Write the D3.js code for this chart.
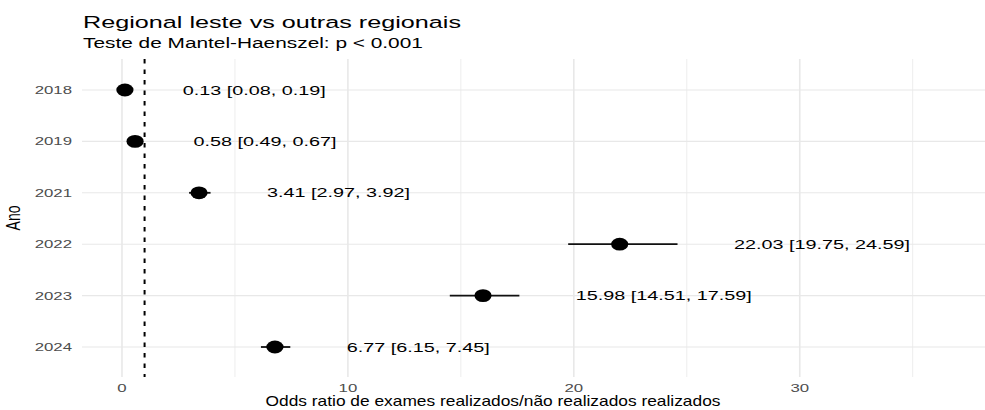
<!DOCTYPE html>
<html lang="en">
	<head>
		<meta charset="utf-8">
		<title>Regional leste vs outras regionais</title>
		<script type="text/javascript" src="https://cdn.jsdelivr.net/npm/d3@7"></script>
		<style type="text/css">
			html, body {
				margin: 0;
				padding: 0;
				background: #fff;
			}
			svg text {
				font-family: "Liberation Sans", Arial, sans-serif;
			}
		</style>
	</head>
	<body>
		<script type="text/javascript">

			// data
			let years = ["2018", "2019", "2021", "2022", "2023", "2024"];
			let oddsRatio = [0.13, 0.58, 3.41, 22.03, 15.98, 6.77];
			let lower = [0.08, 0.49, 2.97, 19.75, 14.51, 6.15];
			let upper = [0.19, 0.67, 3.92, 24.59, 17.59, 7.45];
			let xTicks = [0, 10, 20, 30];
			let xMinorTicks = [5, 15, 25, 35];
			let refLine = 1;

			let titleText = "Regional leste vs outras regionais";
			let subtitleText = "Teste de Mantel-Haenszel: p < 0.001";
			let xTitle = "Odds ratio de exames realizados/não realizados realizados";
			let yTitle = "Ano";

			//Width and height
			let w = 985;
			let h = 410;
			let SX = 1.5; // the picture is stretched sideways

			let rows = years.map((y, i) => ({
				year: y,
				or: oddsRatio[i],
				lo: lower[i],
				hi: upper[i]
			}));

			let svg = d3.select("body")
						.append("svg")
						.attr("width", w)
						.attr("height", h);

			let xScale = d3.scaleLinear()
							.domain([-1.77, 38.2])
							.range([82, 985]);

			let yScale = d3.scalePoint()
							.domain(years)
							.range([90, 347]);

			let panelTop = 59;
			let panelBottom = 377;

			// helper for stretched text
			function label(g, x, y, txt, size, anchor, color, sx) {
				return g.append("text")
					.attr("transform", "translate(" + x + "," + y + ") scale(" + (sx || SX) + ",1)")
					.attr("text-anchor", anchor)
					.attr("font-size", size + "px")
					.attr("fill", color)
					.text(txt);
			}

			// grid
			svg.selectAll("line.minor")
			   .data(xMinorTicks)
			   .enter()
			   .append("line")
			   .attr("x1", (d) => xScale(d))
			   .attr("x2", (d) => xScale(d))
			   .attr("y1", panelTop)
			   .attr("y2", panelBottom)
			   .attr("stroke", "#ededed")
			   .attr("stroke-width", 1);

			svg.selectAll("line.major")
			   .data(xTicks)
			   .enter()
			   .append("line")
			   .attr("x1", (d) => xScale(d))
			   .attr("x2", (d) => xScale(d))
			   .attr("y1", panelTop)
			   .attr("y2", panelBottom)
			   .attr("stroke", "#e8e8e8")
			   .attr("stroke-width", 1.6);

			svg.selectAll("line.hgrid")
			   .data(years)
			   .enter()
			   .append("line")
			   .attr("x1", 82)
			   .attr("x2", w)
			   .attr("y1", (d) => yScale(d))
			   .attr("y2", (d) => yScale(d))
			   .attr("stroke", "#e8e8e8")
			   .attr("stroke-width", 1.1);

			// reference line at OR = 1
			svg.append("line")
			   .attr("x1", xScale(refLine))
			   .attr("x2", xScale(refLine))
			   .attr("y1", panelTop)
			   .attr("y2", panelBottom)
			   .attr("stroke", "#000")
			   .attr("stroke-width", 2)
			   .attr("stroke-dasharray", "4.5,6");

			// confidence intervals
			svg.selectAll("line.ci")
			   .data(rows)
			   .enter()
			   .append("line")
			   .attr("x1", (d) => xScale(d.lo))
			   .attr("x2", (d) => xScale(d.hi))
			   .attr("y1", (d) => yScale(d.year))
			   .attr("y2", (d) => yScale(d.year))
			   .attr("stroke", "#111")
			   .attr("stroke-width", 1.8);

			// points
			svg.selectAll("ellipse")
			   .data(rows)
			   .enter()
			   .append("ellipse")
			   .attr("cx", (d) => xScale(d.or))
			   .attr("cy", (d) => yScale(d.year))
			   .attr("rx", 8.6)
			   .attr("ry", 6.4)
			   .attr("fill", "#000");

			// value labels, placed just right of the upper bound
			rows.forEach((d) => {
				label(svg, xScale(d.hi + 2.5), yScale(d.year) + 4.6,
					d.or.toFixed(2) + " [" + d.lo.toFixed(2) + ", " + d.hi.toFixed(2) + "]",
					13.2, "start", "#000");
			});

			// axis tick labels
			years.forEach((y) => {
				label(svg, 72, yScale(y) + 4, y, 11.2, "end", "#4d4d4d");
			});
			xTicks.forEach((t) => {
				label(svg, xScale(t), 392, t, 11.2, "middle", "#4d4d4d");
			});

			// axis titles
			label(svg, 493, 406, xTitle, 14, "middle", "#000", 1.24);
			svg.append("text")
			   .attr("transform", "translate(20,218) scale(1.5,1) rotate(-90)")
			   .attr("text-anchor", "middle")
			   .attr("font-size", "14px")
			   .attr("fill", "#000")
			   .text(yTitle);

			// titles
			label(svg, 83, 28, titleText, 16.8, "start", "#000");
			label(svg, 83, 48, subtitleText, 13.9, "start", "#000");

		</script>
	</body>
</html>
